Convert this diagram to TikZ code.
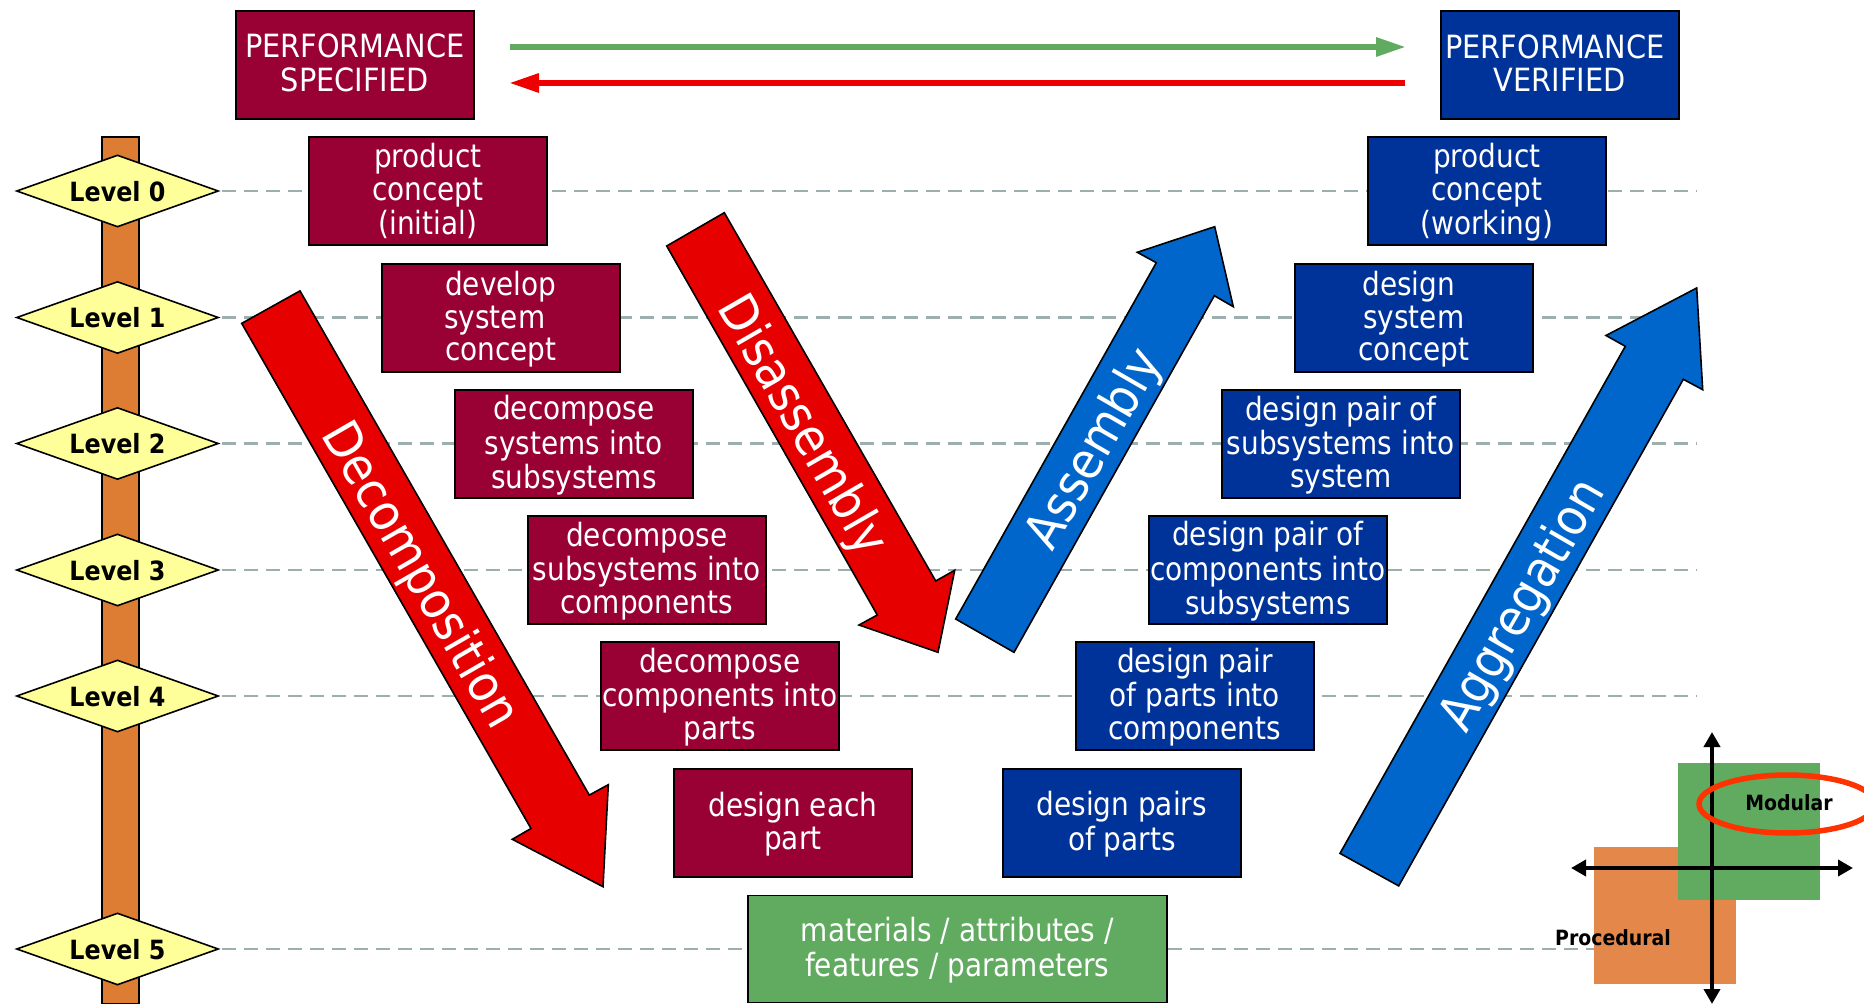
\documentclass[tikz,border=0pt]{standalone}
\usepackage{fontspec}
\setmainfont{DejaVu Sans Condensed}
\newfontfamily\boxfont[FakeStretch=0.97]{DejaVu Sans Condensed}
\usetikzlibrary{arrows.meta,shapes.geometric}
\definecolor{maroon}{HTML}{990033}
\definecolor{navy}{HTML}{003399}
\definecolor{bigred}{HTML}{E60000}
\definecolor{bigblue}{HTML}{0066CC}
\definecolor{leaf}{HTML}{61AB60}
\definecolor{barorange}{HTML}{DD7D33}
\definecolor{rectorange}{HTML}{E3874A}
\definecolor{lvlyellow}{HTML}{FFFF99}
\definecolor{dashgrey}{HTML}{9DAEAE}
\definecolor{ringred}{HTML}{FF3300}
\definecolor{topred}{HTML}{EE0000}
\newcommand\boxlines[1]{\raisebox{-3pt}[\height][\depth]{\begin{tabular}{@{}c@{}}#1\end{tabular}}}
\newcommand\lvltext[1]{\raisebox{-0.6pt}[\height][\depth]{#1}}
\tikzset{
  x=1pt,y=-1pt,
  boxbase/.style={draw=black,line width=1.6pt,minimum width=238pt,minimum height=108pt,inner sep=0pt,text=white,
    font=\boxfont\fontsize{32}{32.8}\selectfont,anchor=north west},
  specbox/.style={boxbase,fill=maroon},
  verifbox/.style={boxbase,fill=navy},
  toplabel/.style={font=\fontsize{32}{32.8}\selectfont,text=white,inner sep=0pt},
  levelmark/.style={diamond,draw=black,line width=1.6pt,fill=lvlyellow,minimum width=202pt,minimum height=72pt,aspect=2.8,inner sep=0pt,
    font=\fontsize{26.5}{26.5}\selectfont\bfseries},
  levelline/.style={draw=dashgrey,line width=2.6pt,dash pattern=on 14pt off 8pt},
  bigarrow/.style={draw=black,line width=1.6pt,line join=miter},
  bigtext/.style={text=white,font=\fontsize{51}{51}\selectfont,inner sep=0pt},
  quadlabel/.style={font=\fontsize{21}{21}\selectfont\bfseries,inner sep=0pt},
  axisline/.style={line width=4pt,{Triangle[length=15pt,width=16pt]}-{Triangle[length=15pt,width=16pt]}},
}
\begin{document}
\begin{tikzpicture}
\useasboundingbox (0,0) rectangle (1864,1008);
% level bar
\node[draw=black,line width=1.6pt,fill=barorange,minimum width=37pt,minimum height=866pt,inner sep=0pt,anchor=north west] (bar) at (101,136.5) {};
% dashed end points
\coordinate (e0) at (1697,191);
\coordinate (e1) at (1697,317.5);
\coordinate (e2) at (1697,443.5);
\coordinate (e3) at (1697,570);
\coordinate (e4) at (1697,696);
\coordinate (e5) at (1600,949);
% diamonds
\node[levelmark] (L0) at (117.5,191) {\lvltext{Level 0}};
\node[levelmark] (L1) at (117.5,317.5) {\lvltext{Level 1}};
\node[levelmark] (L2) at (117.5,443.5) {\lvltext{Level 2}};
\node[levelmark] (L3) at (117.5,570) {\lvltext{Level 3}};
\node[levelmark] (L4) at (117.5,696) {\lvltext{Level 4}};
\node[levelmark] (L5) at (117.5,949) {\lvltext{Level 5}};
\foreach \n in {0,...,5}{\draw[levelline] ([xshift=3pt]L\n.east) -- (e\n);}
% specification boxes
\node[specbox] (ps) at (235,10) {};
\node[toplabel] (pst) at ([yshift=0pt]ps.center) {\boxlines{PERFORMANCE\\SPECIFIED}};
\node[specbox] (s0) at (308,136) {\boxlines{product\\concept\\(initial)}};
\node[specbox] (s1) at (381,263) {\boxlines{develop\\system\hspace*{12pt}\\concept}};
\node[specbox] (s2) at (454,389) {\boxlines{decompose\\systems into\\subsystems}};
\node[specbox] (s3) at (527,515) {\boxlines{decompose\\subsystems into\\components}};
\node[specbox] (s4) at (600,641) {\boxlines{decompose\\components into\\parts}};
\node[specbox] (s5) at (673,768) {\boxlines{design each\\part}};
% verification boxes
\node[verifbox] (pv) at (1440,10) {};
\node[toplabel] (pvt) at ([yshift=0pt]pv.center) {\boxlines{PERFORMANCE\hspace*{10pt}\\VERIFIED}};
\node[verifbox] (v0) at (1367,136) {\boxlines{product\\concept\\(working)}};
\node[verifbox] (v1) at (1294,263) {\boxlines{design\hspace*{10pt}\\system\\concept}};
\node[verifbox] (v2) at (1221,389) {\boxlines{design pair of\\subsystems into\\system}};
\node[verifbox] (v3) at (1148,515) {\boxlines{design pair of\\components into\\subsystems}};
\node[verifbox] (v4) at (1075,641) {\boxlines{design pair\\of parts into\\components}};
\node[verifbox] (v5) at (1002,768) {\boxlines{design pairs\\of parts}};
% base box
\node[boxbase,fill=leaf,minimum width=419pt,minimum height=107pt] (base) at (747,894.5) {\boxlines{materials / attributes /\\features / parameters}};
% top arrows
\coordinate (gs) at (510,47);
\coordinate (ge) at (1406,47);
\coordinate (rs) at (1405,83);
\coordinate (re) at (509,83);
\draw[leaf,line width=6pt,-{Triangle[length=30pt,width=18pt]}] (gs) -- (ge);
\draw[topred,line width=6pt,-{Triangle[length=30pt,width=18pt]}] (rs) -- (re);
% big arrows
\draw[bigarrow,fill=bigred] (241.7,323.4) -- (300,290.9) -- (589.3,795.1) -- (608.3,784.7) -- (603,886.7) -- (512.3,839.3) -- (531,828.5) -- cycle;
\node[bigtext,rotate=-60] (decomp) at (419,576) {Decomposition};
\draw[bigarrow,fill=bigred] (666.7,246) -- (724.3,212.7) -- (935.7,581) -- (954.7,570.3) -- (938,652.3) -- (859,625) -- (877.3,615) -- cycle;
\node[bigtext,rotate=-60] (disas) at (801,426) {Disassembly};
\draw[bigarrow,fill=bigblue] (955.7,619) -- (1014,652.3) -- (1214.3,295.7) -- (1233.3,306.7) -- (1214.7,226.7) -- (1137.3,252.3) -- (1156.3,262.7) -- cycle;
\node[bigtext,rotate=60] (assem) at (1096,450) {Assembly};
\draw[bigarrow,fill=bigblue] (1340,853.4) -- (1398.7,885.9) -- (1683.3,379.3) -- (1702.7,389.7) -- (1696.7,288) -- (1606,335.5) -- (1625.3,346.3) -- cycle;
\node[bigtext,rotate=60] (aggr) at (1524,606) {Aggregation};
% quadrant
\fill[rectorange] (1594,847) rectangle (1736,984);
\fill[leaf] (1678,763) rectangle (1820,900);
\coordinate (ax1) at (1571,868);
\coordinate (ax2) at (1853,868);
\coordinate (ay1) at (1712,732);
\coordinate (ay2) at (1712,1004);
\draw[axisline] (ax1) -- (ax2);
\draw[axisline] (ay1) -- (ay2);
\draw[ringred,line width=5.5pt] (1787,804) ellipse [x radius=88pt,y radius=29pt];
\node[quadlabel] (modular) at (1789,803) {Modular};
\node[quadlabel] (proc) at (1613,938) {Procedural};
\end{tikzpicture}
\end{document}
